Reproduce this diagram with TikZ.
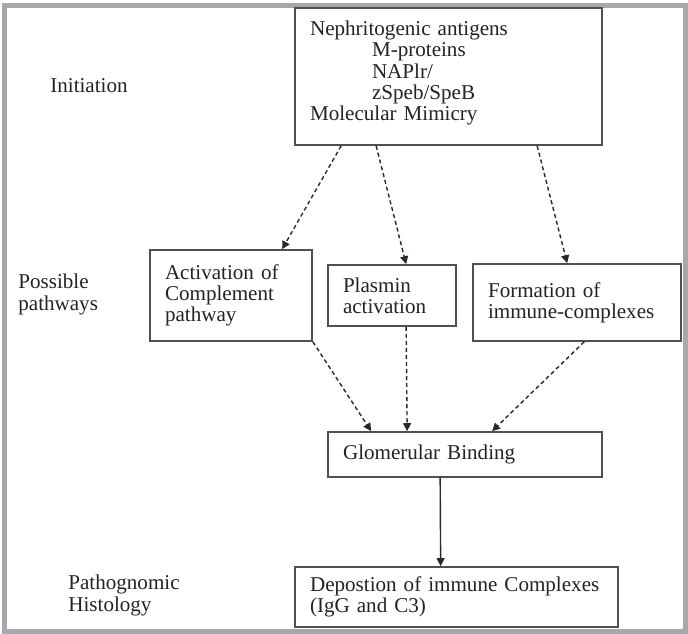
\documentclass[tikz,border=0pt]{standalone}
\usepackage{fontspec}
\setmainfont{Liberation Serif}
\usetikzlibrary{arrows.meta,positioning,calc}
\definecolor{frameclr}{RGB}{168,168,172}
\definecolor{boxbdr}{RGB}{80,80,80}
\definecolor{hdrclr}{RGB}{35,35,35}
\definecolor{arrclr}{RGB}{40,40,40}
\tikzset{
  %% flow block, text set flush left
  fblk/.style={rectangle,draw=boxbdr,line width=1pt,fill=white,
    font=\fontsize{12}{12}\selectfont,align=left,text=hdrclr,
    inner xsep=0.3cm,inner ysep=0pt},
  %% stage label in the left column
  lbl/.style={font=\fontsize{12}{12}\selectfont,align=left,text=hdrclr,
    inner sep=0pt},
  %% arrows
  arr/.style={-{Triangle[length=4.5pt,width=4.5pt]},line width=0.8pt,color=arrclr},
  darr/.style={arr,dash pattern=on 2.3pt off 1.7pt},
}

\begin{document}
\begin{tikzpicture}[x=0.02cm,y=-0.02cm]
  \useasboundingbox (0,0) rectangle (688,634);

  %% outer frame
  \draw[frameclr,line width=0.1cm] (4.5,6) rectangle (685.5,631.5);

  %% stage labels (base = last line)
  \node[lbl,anchor=base west] (lini)  at (50,93)  {Initiation};
  \node[lbl,anchor=base west] (lpath) at (18,310) {Possible\\pathways};
  \node[lbl,anchor=base west] (lhist) at (68,611) {Pathognomic\\Histology};

  %% Initiation
  \node[fblk,text width=5.54cm,minimum height=2.74cm] (init) at (448.5,76.5)
    {Nephritogenic antigens\\\hspace*{1.24cm}M-proteins\\\hspace*{1.24cm}NAPlr/\\\hspace*{1.24cm}zSpeb/SpeB\\Molecular Mimicry\vspace*{4pt}};

  %% Possible pathways
  \node[fblk,text width=2.64cm,minimum height=1.82cm] (act)  at (231,295.5)
    {Activation of\\Complement\\pathway};
  \node[fblk,text width=1.96cm,minimum height=1.22cm] (plas) at (392,295.5)
    {Plasmin\\activation};
  \node[fblk,text width=3.56cm,minimum height=1.54cm] (form) at (577,302.5)
    {Formation of\\immune-complexes};

  %% Binding and histology
  \node[fblk,text width=4.88cm,minimum height=0.9cm] (glom) at (465,454.5)
    {Glomerular Binding};
  \node[fblk,text width=5.86cm,minimum height=1.2cm] (depo) at (456.5,597)
    {Depostion of immune Complexes\\(IgG and C3)};

  %% Initiation -> pathways
  \draw[darr] ($(init.south west)+(47,0)$)  -- ($(act.north west)+(133,0)$);
  \draw[darr] ($(init.south west)+(82,0)$)  -- ($(plas.north west)+(79,0)$);
  \draw[darr] ($(init.south west)+(243,0)$) -- ($(form.north west)+(95,0)$);

  %% pathways -> binding
  \draw[darr] (act.south east)             -- ($(glom.north west)+(44,0)$);
  \draw[darr] ($(plas.south west)+(79,0)$)  -- ($(glom.north west)+(80,0)$);
  \draw[darr] ($(form.south west)+(112,0)$) -- ($(glom.north west)+(165,0)$);

  %% binding -> deposition
  \draw[arr] ($(glom.south west)+(113,0)$) -- ($(depo.north west)+(146.5,0)$);

\end{tikzpicture}
\end{document}
